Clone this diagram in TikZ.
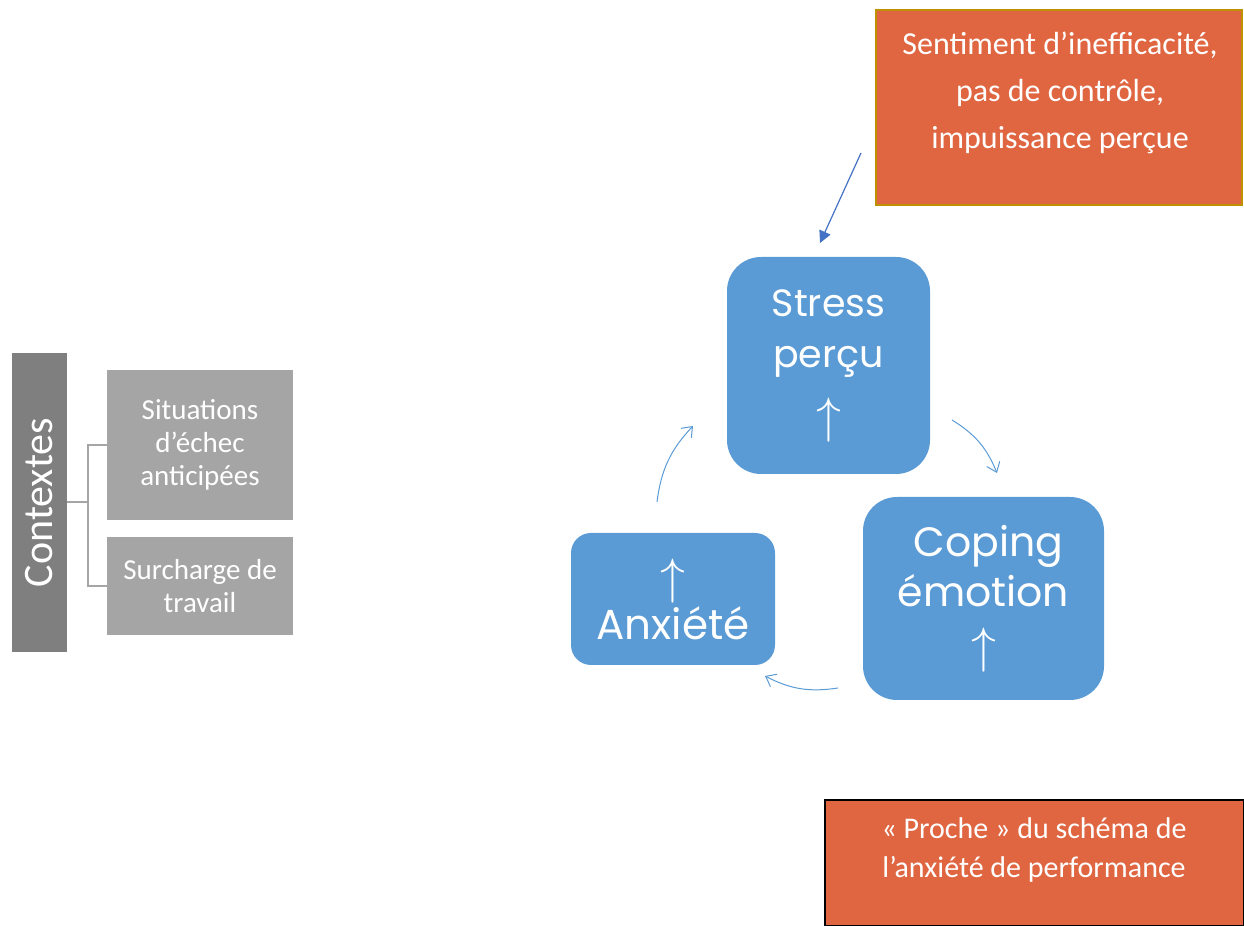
\documentclass[tikz,border=0pt]{standalone}
\usepackage{fontspec}
\setmainfont{Carlito}
\newfontfamily\gothicfont{Poppins}
\usepackage{tikz}
\usetikzlibrary{arrows.meta}

\definecolor{cycleblue}{RGB}{91,155,213}
\definecolor{darkarrow}{RGB}{68,114,196}
\definecolor{notecolor}{RGB}{224,102,66}
\definecolor{goldline}{RGB}{191,144,0}
\definecolor{ctxgray}{RGB}{127,127,127}
\definecolor{itemgray}{RGB}{165,165,165}

\tikzset{
  cyclebox/.style={fill=cycleblue, text=white, align=center, inner sep=0pt,
    font=\gothicfont\fontsize{19}{25.5}\selectfont},
  notebox/.style={fill=notecolor, inner sep=0pt},
  notetext/.style={text=white, align=center, font=\fontsize{16}{23.5}\selectfont},
  itembox/.style={fill=itemgray, text=white, align=center, inner sep=0pt,
    minimum width=93pt, font=\fontsize{14.5}{16.5}\selectfont},
  cyclearrow/.style={cycleblue, line width=0.5pt, -{Straight Barb[length=4.5pt,width=7pt]}},
  treeline/.style={itemgray, line width=1pt}
}

\newcommand{\uparr}{{\fontsize{26}{26}\selectfont$\uparrow$}}

\begin{document}
\begin{tikzpicture}[x=0.5pt,y=0.5pt]
        \useasboundingbox (0,0) rectangle (1244,926);
        % left side: contexts
        \node[fill=ctxgray, minimum width=27.5pt, minimum height=149.5pt, inner sep=0pt,
          label={[rotate=90, text=white, font=\fontsize{21}{21}\selectfont]center:Contextes}] (contextes) at (39.5,423.5) {};
        \node[itembox, minimum height=75pt] (situations) at (200,481) {Situations\\d’échec\\anticipées};
        \node[itembox, minimum height=49pt] (surcharge) at (200,340) {Surcharge de\\travail};
        \draw[treeline] (contextes.east) -- ++(21,0) coordinate (fork);
        \draw[treeline] (situations.west) -| (fork) |- (surcharge.west);

        % the cycle
        \node[cyclebox, rounded corners=17pt, minimum width=101.5pt, minimum height=108.5pt] (stress) at (828.5,560.5) {Stress\\perçu\\[7pt]\uparr};
        \node[cyclebox, rounded corners=17pt, minimum width=120.5pt, minimum height=101.5pt,
          font=\gothicfont\fontsize{20.5}{25}\selectfont] (coping) at (983.5,327.5) {\hspace*{5pt}Coping\\émotion\\[3pt]\uparr};
        \node[cyclebox, rounded corners=10pt, minimum width=102pt, minimum height=66pt,
          font=\gothicfont\fontsize{21}{23}\selectfont] (anxiete) at (673,327) {\uparr\\Anxiété};

        \coordinate (sc1) at (952,506);
        \coordinate (sc2) at (997,453);
        \coordinate (ca1) at (838,238);
        \coordinate (ca2) at (765,250);
        \coordinate (as1) at (657,424);
        \coordinate (as2) at (693,500);
        \draw[cyclearrow] (sc1) to[bend left=18] (sc2);
        \draw[cyclearrow] (ca1) to[bend left=18] (ca2);
        \draw[cyclearrow] (as1) to[bend left=18] (as2);

        % notes
        \node[notebox, draw=goldline, line width=1pt, minimum width=183pt, minimum height=97.5pt] (sentiment) at (1059,818.5) {};
        \node[notetext] (sentimenttxt) at (1060,833) {Sentiment d’inefficacité,\\pas de contrôle,\\impuissance perçue};
        \coordinate (sentstart) at (861,773);
        \coordinate (senttip) at (820,683);
        \draw[darkarrow, line width=0.6pt, -{Triangle[length=6pt,width=6pt]}] (sentstart) -- (senttip);

        \node[notebox, draw=black, line width=0.8pt, minimum width=209.5pt, minimum height=63pt] (proche) at (1034.5,63) {};
        \node[notetext, font=\fontsize{15}{19.5}\selectfont] (prochetxt) at (1034,76) {« Proche » du schéma de\\l’anxiété de performance};
    \end{tikzpicture}
\end{document}
